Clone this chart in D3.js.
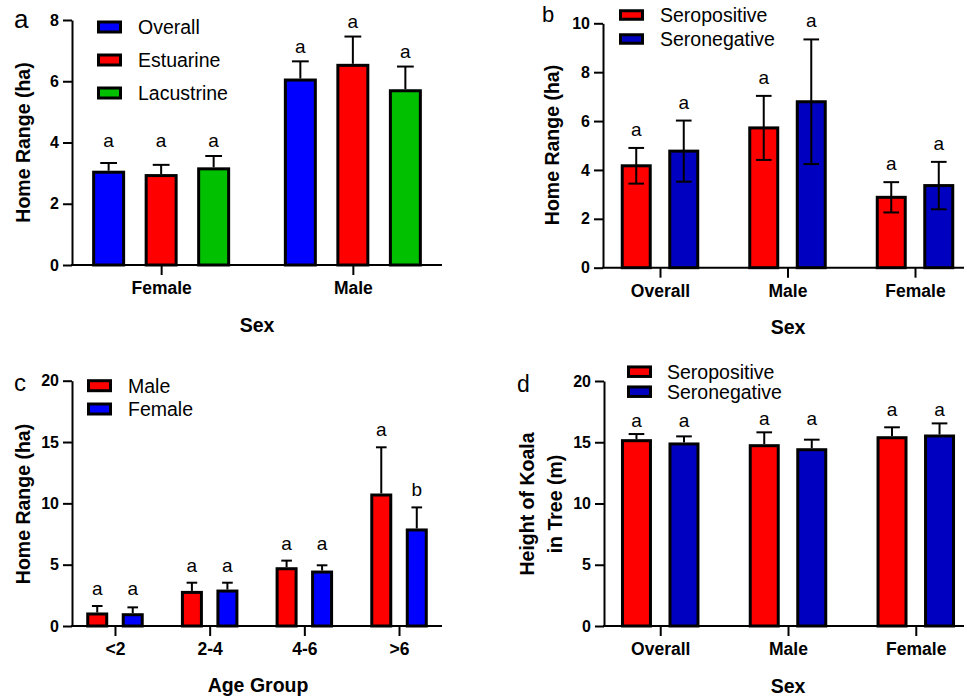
<!DOCTYPE html>
<html>
<head>
<meta charset="utf-8">
<script src="https://cdn.jsdelivr.net/npm/d3@7"></script>
<style>
body { margin: 0; background: #fff; }
text { font-family: Arial, "Liberation Sans", sans-serif; }
</style>
</head>
<body>
<script>

// ---- data ----

// panel a : home range by sex and habitat
var aGroups = ["Female", "Male"];
var aSeries = ["Overall", "Estuarine", "Lacustrine"];
var aMean = [[3.03, 2.92, 3.14], [6.04, 6.52, 5.69]];
var aSem = [[0.30, 0.35, 0.42], [0.61, 0.94, 0.79]];
var aLetters = [["a", "a", "a"], ["a", "a", "a"]];
var aTicks = [0, 2, 4, 6, 8];

// panel b : home range by serostatus
var bGroups = ["Overall", "Male", "Female"];
var bSeries = ["Seropositive", "Seronegative"];
var bMean = [[4.17, 4.77], [5.72, 6.79], [2.88, 3.36]];
var bSem = [[0.73, 1.25], [1.31, 2.55], [0.62, 0.97]];
var bLetters = [["a", "a"], ["a", "a"], ["a", "a"]];
var bTicks = [0, 2, 4, 6, 8, 10];

// panel c : home range by age group
var cGroups = ["<2", "2-4", "4-6", ">6"];
var cSeries = ["Male", "Female"];
var cMean = [[0.98, 0.92], [2.74, 2.85], [4.67, 4.40], [10.68, 7.83]];
var cSem = [[0.65, 0.60], [0.79, 0.68], [0.66, 0.55], [3.89, 1.84]];
var cLetters = [["a", "a"], ["a", "a"], ["a", "a"], ["a", "b"]];
var cTicks = [0, 5, 10, 15, 20];

// panel d : height in tree by serostatus
var dGroups = ["Overall", "Male", "Female"];
var dSeries = ["Seropositive", "Seronegative"];
var dMean = [[15.13, 14.86], [14.72, 14.39], [15.37, 15.51]];
var dSem = [[0.54, 0.62], [1.09, 0.82], [0.85, 1.03]];
var dLetters = [["a", "a"], ["a", "a"], ["a", "a"]];
var dTicks = [0, 5, 10, 15, 20];


var width = 967;
var height = 697;

var svg = d3.select("body")
        .append("svg")
        .attr("width", width)
        .attr("height", height);

svg.append("rect")
    .attr("width", width)
    .attr("height", height)
    .attr("fill", "#fff");


function drawPanel(p) {

    var g = svg.append("g");

    var x0 = d3.scalePoint() // group centres
            .domain(p.groups)
            .range(p.xRange)
            .padding(p.xPad);

    var x1 = d3.scaleBand() // bars inside a group
            .domain(p.series)
            .range([-p.groupW / 2, p.groupW / 2])
            .paddingInner(p.barPad);

    var y = d3.scaleLinear()
            .domain([0, p.yMax])
            .range([p.yBottom, p.yTop]);

    var color = d3.scaleOrdinal()
            .domain(p.series)
            .range(p.colors);

    var bw = x1.bandwidth();
    var capW = bw * 0.56;

    // y axis
    var yAxis = g.append("g")
            .attr("transform", `translate(${p.xRange[0]},0)`)
            .call(d3.axisLeft(y).tickValues(p.yTicks).tickSize(9).tickSizeOuter(0).tickPadding(4));
    yAxis.selectAll("path, line").attr("stroke", "#000").attr("stroke-width", 2);
    yAxis.selectAll("text")
        .attr("fill", "#000")
        .style("font-size", "16px")
        .style("font-weight", "bold");

    // x axis
    var xAxis = g.append("g")
            .attr("transform", `translate(0,${p.yBottom})`)
            .call(d3.axisBottom(x0).tickSize(10).tickSizeOuter(0).tickPadding(6.5));
    xAxis.select(".domain").remove();
    xAxis.append("line")
        .attr("x1", p.xRange[0] - 1)
        .attr("x2", p.xEnd)
        .attr("stroke", "#000")
        .attr("stroke-width", 2);
    xAxis.selectAll(".tick line").attr("stroke", "#000").attr("stroke-width", 2);
    xAxis.selectAll("text")
        .attr("fill", "#000")
        .style("font-size", "17.5px")
        .style("font-weight", "bold");

    // flatten rows for drawing
    var rows = [];
    p.groups.forEach(function(grp, i) {
        var groupTop = d3.max(p.series, function(s, j) { return p.means[i][j] + p.sems[i][j]; });
        p.series.forEach(function(s, j) {
            rows.push({
                group: grp,
                series: s,
                mean: p.means[i][j],
                sem: p.sems[i][j],
                letter: p.letters[i][j],
                letterAt: p.align[i] ? groupTop : p.means[i][j] + p.sems[i][j]
            });
        });
    });

    g.selectAll(".bar")
        .data(rows)
        .enter()
        .append("rect")
        .attr("class", "bar")
        .attr("x", function(d) { return x0(d.group) + x1(d.series); })
        .attr("y", function(d) { return y(d.mean); })
        .attr("width", bw)
        .attr("height", function(d) { return y(0) - y(d.mean); })
        .attr("fill", function(d) { return color(d.series); })
        .attr("stroke", "#000")
        .attr("stroke-width", 3);

    // error bars (two sided only in panel b)
    var err = g.selectAll(".err")
        .data(rows)
        .enter()
        .append("g")
        .attr("class", "err")
        .attr("transform", function(d) { return `translate(${x0(d.group) + x1(d.series) + bw / 2},0)`; })
        .attr("stroke", "#000")
        .attr("stroke-width", 2);

    err.append("line")
        .attr("y1", function(d) { return p.twoSided ? y(d.mean - d.sem) : y(d.mean) - 1.5; })
        .attr("y2", function(d) { return y(d.mean + d.sem); });

    err.append("line")
        .attr("x1", -capW / 2)
        .attr("x2", capW / 2)
        .attr("y1", function(d) { return y(d.mean + d.sem); })
        .attr("y2", function(d) { return y(d.mean + d.sem); });

    if (p.twoSided) {
        err.append("line")
            .attr("x1", -capW / 2)
            .attr("x2", capW / 2)
            .attr("y1", function(d) { return y(d.mean - d.sem); })
            .attr("y2", function(d) { return y(d.mean - d.sem); });
    }

    // significance letters
    g.selectAll(".letter")
        .data(rows)
        .enter()
        .append("text")
        .attr("class", "letter")
        .attr("x", function(d) { return x0(d.group) + x1(d.series) + bw / 2; })
        .attr("y", function(d) { return y(d.letterAt) - p.gap; })
        .attr("text-anchor", "middle")
        .style("font-size", "19px")
        .text(function(d) { return d.letter; });

    // legend
    var leg = g.selectAll(".leg")
        .data(p.series)
        .enter()
        .append("g")
        .attr("class", "leg")
        .attr("transform", function(d, i) { return `translate(0,${p.legend.y + i * p.legend.dy})`; });

    leg.append("rect")
        .attr("x", p.legend.x)
        .attr("y", -p.legend.h / 2)
        .attr("width", 22)
        .attr("height", p.legend.h)
        .attr("fill", function(d) { return color(d); })
        .attr("stroke", "#000")
        .attr("stroke-width", 3);

    leg.append("text")
        .attr("x", p.legend.textX)
        .attr("dy", "0.36em")
        .style("font-size", "19.5px")
        .text(function(d) { return d; });

    // panel letter
    g.append("text")
        .attr("x", p.label.x)
        .attr("y", p.label.y)
        .style("font-size", p.label.size + "px")
        .text(p.label.text);

    // axis titles
    p.yTitle.lines.forEach(function(line, i) {
        g.append("text")
            .attr("transform", `translate(${p.yTitle.x[i]},${p.yTitle.y}) rotate(-90)`)
            .attr("text-anchor", "middle")
            .style("font-size", "19.5px")
            .style("font-weight", "bold")
            .text(line);
    });

    g.append("text")
        .attr("x", p.xTitle.x)
        .attr("y", p.xTitle.y)
        .attr("text-anchor", "middle")
        .style("font-size", "19.5px")
        .style("font-weight", "bold")
        .text(p.xTitle.text);
}


drawPanel({
    groups: aGroups, series: aSeries, means: aMean, sems: aSem, letters: aLetters,
    colors: ["#0000ff", "#ff0000", "#00c000"],
    yMax: 8, yTicks: aTicks, yTop: 20, yBottom: 265,
    xRange: [72, 442], xEnd: 442, xPad: 0.465, groupW: 135, barPad: 0.429,
    twoSided: false, align: [true, false], gap: 8.5,
    legend: {x: 98.5, y: 27, dy: 33, h: 10, textX: 138},
    label: {text: "a", x: 14, y: 28, size: 26},
    yTitle: {lines: ["Home Range (ha)"], x: [30], y: 142.5},
    xTitle: {text: "Sex", x: 257, y: 332}
});

drawPanel({
    groups: bGroups, series: bSeries, means: bMean, sems: bSem, letters: bLetters,
    colors: ["#ff0000", "#0000c0"],
    yMax: 10, yTicks: bTicks, yTop: 23.3, yBottom: 267.7,
    xRange: [603, 972], xEnd: 964, xPad: 0.447, groupW: 75.5, barPad: 0.411,
    twoSided: true, align: [false, false, false], gap: 12,
    legend: {x: 620.5, y: 15, dy: 24, h: 8.5, textX: 660},
    label: {text: "b", x: 542, y: 22, size: 22},
    yTitle: {lines: ["Home Range (ha)"], x: [559], y: 145},
    xTitle: {text: "Sex", x: 788, y: 334}
});

drawPanel({
    groups: cGroups, series: cSeries, means: cMean, sems: cSem, letters: cLetters,
    colors: ["#ff0000", "#0000ff"],
    yMax: 20, yTicks: cTicks, yTop: 380.7, yBottom: 626,
    xRange: [72, 442], xEnd: 442, xPad: 0.454, groupW: 54.5, barPad: 0.465,
    twoSided: false, align: [true, true, true, false], gap: 11,
    legend: {x: 88.5, y: 385.7, dy: 23.3, h: 10, textX: 128},
    label: {text: "c", x: 14, y: 391, size: 24},
    yTitle: {lines: ["Home Range (ha)"], x: [30], y: 504},
    xTitle: {text: "Age Group", x: 258, y: 692}
});

drawPanel({
    groups: dGroups, series: dSeries, means: dMean, sems: dSem, letters: dLetters,
    colors: ["#ff0000", "#0000c0"],
    yMax: 20, yTicks: dTicks, yTop: 381, yBottom: 626,
    xRange: [604, 972], xEnd: 964, xPad: 0.44, groupW: 75.5, barPad: 0.411,
    twoSided: false, align: [true, true, true], gap: 7,
    legend: {x: 628.5, y: 371.7, dy: 20, h: 9.5, textX: 667},
    label: {text: "d", x: 517, y: 392, size: 23},
    yTitle: {lines: ["Height of Koala", "in Tree (m)"], x: [534, 562], y: 504},
    xTitle: {text: "Sex", x: 788, y: 693}
});

</script>
</body>
</html>
